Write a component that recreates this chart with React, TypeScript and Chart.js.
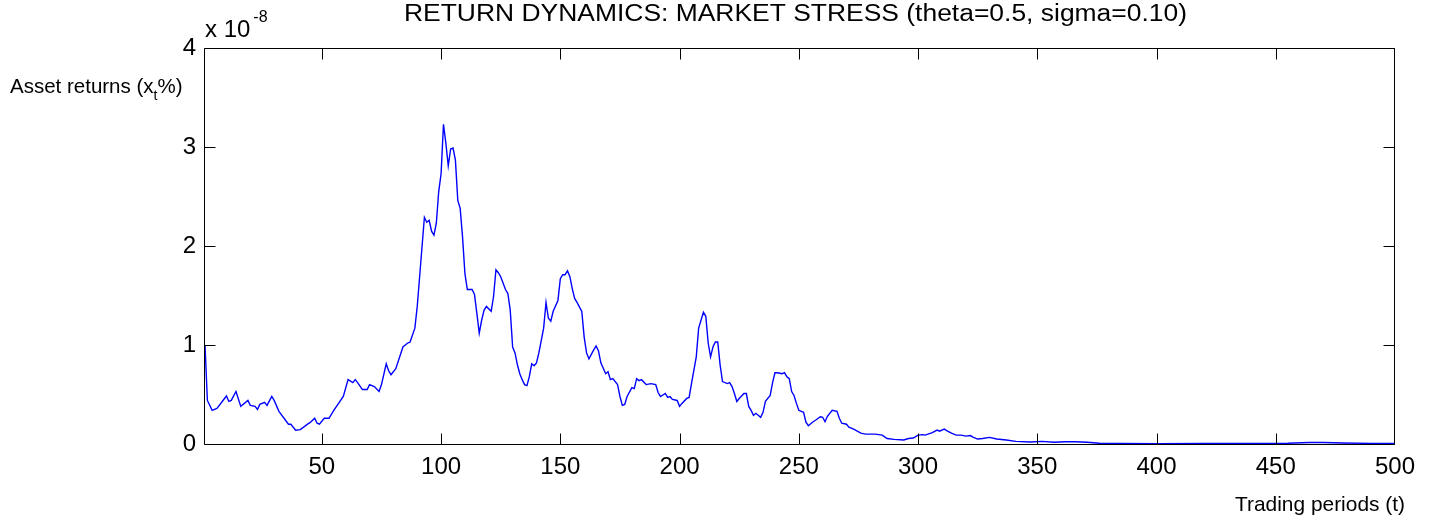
import React, { useEffect, useRef } from "react";
import { Chart, registerables } from "chart.js";

Chart.register(...registerables);

const periods = [
  1, 2, 4, 6, 10, 11, 12, 14, 16, 19, 20, 22, 23, 24, 26, 27, 29, 30, 32, 36,
  37, 39, 41, 44, 45, 47, 48, 49, 51, 53, 55, 59, 61, 63, 64, 65, 67, 69, 70, 72,
  74, 75, 77, 78, 79, 81, 84, 86, 87, 89, 90, 91, 92, 93, 94, 95, 96, 97, 98, 99,
  100, 101, 102, 103, 104, 105, 106, 107, 108, 109, 110, 111, 113, 114, 115, 116, 117, 118, 119, 121,
  122, 123, 124, 125, 127, 128, 129, 130, 131, 132, 133, 134, 135, 136, 137, 138, 139, 140, 141, 143,
  144, 145, 146, 147, 149, 150, 151, 152, 153, 154, 155, 156, 157, 159, 160, 161, 162, 164, 165, 166,
  167, 169, 170, 171, 172, 174, 175, 176, 177, 178, 180, 181, 182, 183, 184, 186, 188, 190, 191, 192,
  194, 195, 196, 197, 199, 200, 201, 203, 204, 205, 207, 208, 210, 211, 212, 213, 214, 215, 216, 217,
  218, 220, 221, 222, 223, 224, 225, 227, 228, 229, 230, 231, 232, 234, 235, 236, 238, 239, 240, 241,
  243, 244, 245, 246, 247, 248, 249, 250, 252, 253, 254, 256, 257, 259, 260, 261, 262, 264, 266, 267,
  268, 270, 271, 273, 276, 278, 282, 285, 287, 290, 294, 296, 298, 300, 302, 303, 306, 308, 309, 311,
  312, 314, 316, 318, 320, 322, 323, 325, 327, 330, 333, 337, 341, 347, 352, 357, 362, 366, 371, 376,
  385, 400, 420, 440, 455, 464, 470, 478, 490, 500,
];

// Asset returns, in units of 10^-8
const returnsE8 = [
  1.0, 0.44, 0.34, 0.36, 0.485, 0.43, 0.44, 0.53, 0.38, 0.44, 0.39, 0.38, 0.35, 0.4, 0.42, 0.39, 0.48, 0.44, 0.33, 0.2,
  0.2, 0.14, 0.145, 0.2, 0.215, 0.26, 0.21, 0.2, 0.26, 0.26, 0.34, 0.48, 0.65, 0.62, 0.65, 0.62, 0.55, 0.55, 0.6, 0.58,
  0.53, 0.6, 0.81, 0.74, 0.7, 0.76, 0.98, 1.02, 1.03, 1.17, 1.39, 1.69, 1.99, 2.29, 2.24, 2.26, 2.15, 2.11, 2.23, 2.55,
  2.73, 3.23, 3.04, 2.81, 2.98, 2.99, 2.87, 2.46, 2.38, 2.09, 1.72, 1.56, 1.56, 1.51, 1.32, 1.12, 1.25, 1.35, 1.39, 1.34,
  1.49, 1.76, 1.73, 1.69, 1.56, 1.52, 1.35, 0.98, 0.92, 0.8, 0.71, 0.65, 0.6, 0.59, 0.68, 0.81, 0.79, 0.82, 0.92, 1.17,
  1.43, 1.27, 1.24, 1.34, 1.45, 1.67, 1.71, 1.71, 1.75, 1.69, 1.57, 1.47, 1.43, 1.34, 1.08, 0.92, 0.86, 0.95, 0.99, 0.94,
  0.82, 0.71, 0.73, 0.65, 0.66, 0.6, 0.48, 0.39, 0.4, 0.48, 0.57, 0.56, 0.66, 0.64, 0.65, 0.6, 0.61, 0.6, 0.52, 0.48,
  0.51, 0.47, 0.48, 0.45, 0.44, 0.38, 0.41, 0.46, 0.47, 0.61, 0.88, 1.17, 1.33, 1.29, 1.02, 0.88, 0.98, 1.03, 1.03, 0.8,
  0.63, 0.61, 0.62, 0.58, 0.51, 0.43, 0.46, 0.51, 0.51, 0.38, 0.34, 0.29, 0.31, 0.27, 0.32, 0.43, 0.49, 0.62, 0.72, 0.72,
  0.71, 0.72, 0.68, 0.66, 0.53, 0.49, 0.41, 0.34, 0.32, 0.22, 0.185, 0.225, 0.24, 0.275, 0.27, 0.225, 0.28, 0.34, 0.33, 0.26,
  0.21, 0.2, 0.17, 0.15, 0.11, 0.1, 0.1, 0.09, 0.055, 0.047, 0.04, 0.055, 0.06, 0.09, 0.095, 0.09, 0.115, 0.14, 0.13, 0.15,
  0.135, 0.11, 0.09, 0.09, 0.08, 0.085, 0.07, 0.05, 0.055, 0.067, 0.05, 0.04, 0.027, 0.02, 0.027, 0.017, 0.023, 0.023, 0.017, 0.007,
  0.005, 0.004, 0.005, 0.006, 0.008, 0.015, 0.015, 0.01, 0.006, 0.005,
];

const xTickValues = [50, 100, 150, 200, 250, 300, 350, 400, 450, 500];
const yTickValues = [0, 1, 2, 3, 4];

const TITLE = "RETURN DYNAMICS: MARKET STRESS (theta=0.5, sigma=0.10)";
const X_LABEL = "Trading periods (t)";
const Y_LABEL_MAIN = "Asset returns (x";
const Y_LABEL_SUB = "t";
const Y_LABEL_END = "%)";
const EXP_BASE = "x 10";
const EXP_POWER = "-8";

const FONT = '"Liberation Sans", Arial, Helvetica, sans-serif';

function drawFitted(
  ctx: CanvasRenderingContext2D,
  text: string,
  x: number,
  y: number,
  size: number,
  targetW: number,
  align: CanvasTextAlign
) {
  ctx.font = `${size}px ${FONT}`;
  const w = ctx.measureText(text).width;
  const s = targetW / w;
  ctx.save();
  ctx.translate(x, y);
  ctx.scale(s, 1);
  ctx.textAlign = align;
  ctx.textBaseline = "alphabetic";
  ctx.fillText(text, 0, 0);
  ctx.restore();
}

const matlabFrame = {
  id: "matlabFrame",
  afterDraw(chart: any) {
    const { ctx, chartArea: a, scales } = chart;
    const xs = scales.x;
    const ys = scales.y;
    ctx.save();
    ctx.strokeStyle = "#000";
    ctx.lineWidth = 1;
    const L = Math.round(a.left) - 0.5;
    const R = Math.round(a.right) - 0.5;
    const T = Math.round(a.top) + 0.5;
    const B = Math.round(a.bottom) + 0.5;
    ctx.beginPath();
    ctx.rect(L, T, R - L, B - T);
    const tl = 11;
    xTickValues.forEach((v) => {
      const px = Math.min(Math.round(xs.getPixelForValue(v)) + 0.5, R);
      ctx.moveTo(px, B);
      ctx.lineTo(px, B - tl);
      ctx.moveTo(px, T);
      ctx.lineTo(px, T + tl);
    });
    yTickValues.forEach((v) => {
      const py = Math.round(ys.getPixelForValue(v)) + 0.5;
      ctx.moveTo(L, py);
      ctx.lineTo(L + tl, py);
      ctx.moveTo(R, py);
      ctx.lineTo(R - tl, py);
    });
    ctx.stroke();

    ctx.fillStyle = "#000";
    // Title
    drawFitted(ctx, TITLE, 795.5, 21, 23, 783, "center");
    // Exponent marker
    ctx.textAlign = "left";
    ctx.textBaseline = "alphabetic";
    ctx.font = `24px ${FONT}`;
    ctx.fillText(EXP_BASE, 205, 37);
    const wb = ctx.measureText(EXP_BASE).width;
    ctx.font = `16px ${FONT}`;
    ctx.fillText(EXP_POWER, 205 + wb + 3, 22);
    // Y label with subscript
    let x = 10;
    ctx.font = `20.5px ${FONT}`;
    ctx.fillText(Y_LABEL_MAIN, x, 93);
    x += ctx.measureText(Y_LABEL_MAIN).width;
    ctx.font = `14px ${FONT}`;
    ctx.fillText(Y_LABEL_SUB, x, 100);
    x += ctx.measureText(Y_LABEL_SUB).width;
    ctx.font = `20.5px ${FONT}`;
    ctx.fillText(Y_LABEL_END, x, 93);
    // X label
    drawFitted(ctx, X_LABEL, 1235, 511, 21, 170, "left");
    ctx.restore();
  },
};

export default function App() {
  const ref = useRef<HTMLCanvasElement>(null);
  useEffect(() => {
    document.body.style.margin = "0";
    const canvas = ref.current;
    if (!canvas) return;
    const chart = new Chart(canvas, {
      type: "line",
      data: {
        datasets: [
          {
            data: periods.map((t, i) => ({ x: t, y: returnsE8[i] })),
            borderColor: "#0000ff",
            borderWidth: 1.4,
            pointRadius: 0,
            tension: 0,
            fill: false,
          },
        ],
      },
      options: {
        animation: false,
        responsive: false,
        events: [],
        layout: { padding: { left: 0, top: 48, right: 36, bottom: 0 } },
        plugins: {
          legend: { display: false },
          tooltip: { enabled: false },
          title: { display: false },
        },
        scales: {
          x: {
            type: "linear",
            min: 1,
            max: 500,
            grid: { display: false, drawTicks: false },
            border: { display: false },
            ticks: {
              autoSkip: false,
              maxRotation: 0,
              padding: 9,
              color: "#000",
              font: { family: FONT, size: 24 },
              callback: (v: any) => String(v),
            },
            afterBuildTicks: (s: any) => {
              s.ticks = xTickValues.map((v) => ({ value: v }));
            },
            afterFit: (s: any) => {
              s.height = 79;
            },
          },
          y: {
            type: "linear",
            min: 0,
            max: 4,
            grid: { display: false, drawTicks: false },
            border: { display: false },
            ticks: {
              padding: 9,
              color: "#000",
              font: { family: FONT, size: 24 },
              callback: (v: any) => String(v),
            },
            afterBuildTicks: (s: any) => {
              s.ticks = yTickValues.map((v) => ({ value: v }));
            },
            afterFit: (s: any) => {
              s.width = 205;
            },
          },
        },
      },
      plugins: [matlabFrame],
    });
    return () => chart.destroy();
  }, []);
  return (
    <div style={{ width: 1431, height: 523, position: "relative" }}>
      <canvas ref={ref} width={1431} height={523} style={{ display: "block" }} />
    </div>
  );
}
